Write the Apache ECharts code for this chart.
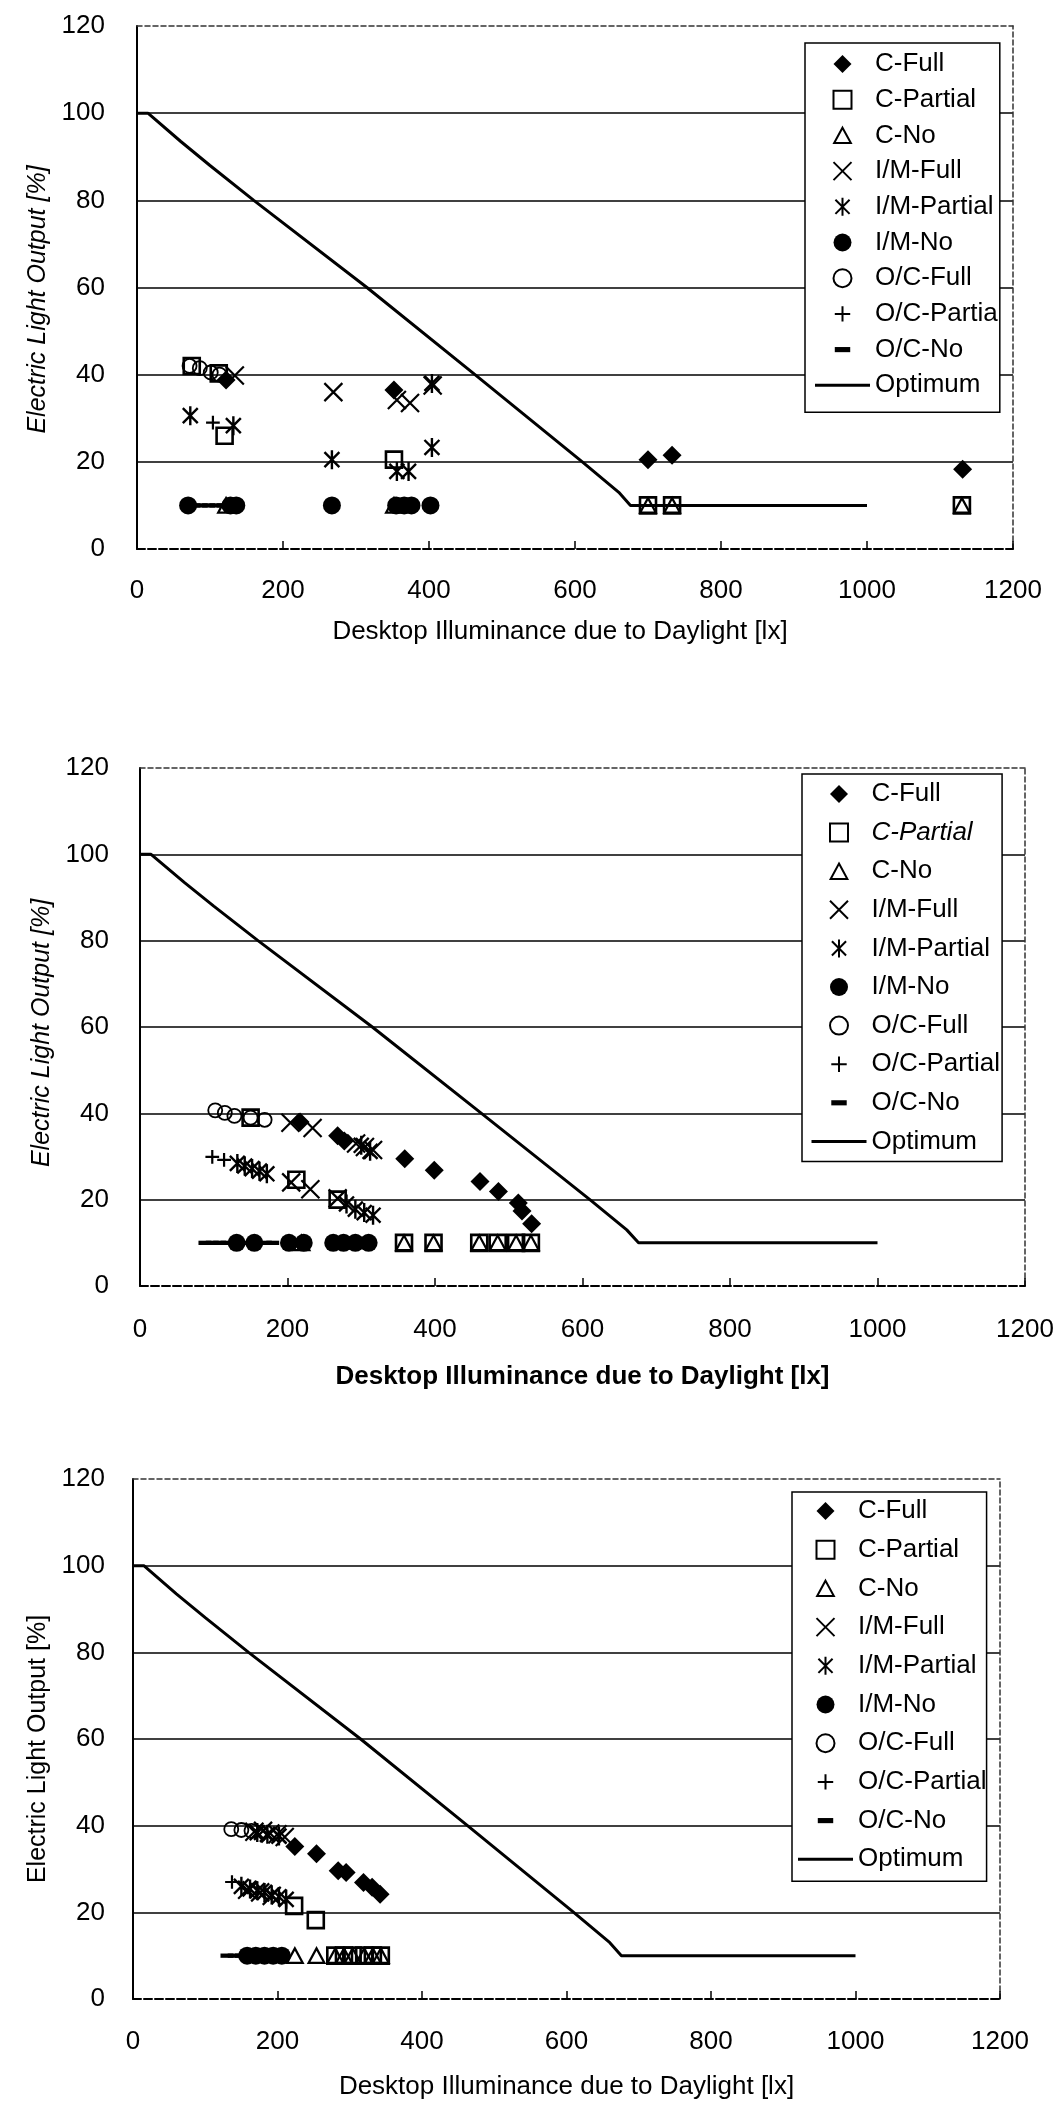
<!DOCTYPE html>
<html>
<head>
<meta charset="utf-8">
<script src="https://cdn.jsdelivr.net/npm/echarts@6/dist/echarts.min.js"></script>
<style>
  html, body { margin: 0; padding: 0; background: #fff; }
  .panel { position: absolute; left: 0; width: 1060px; }
</style>
</head>
<body>
<div id="room1" class="panel" style="top:0;height:700px"></div>
<div id="room2" class="panel" style="top:700px;height:700px"></div>
<div id="room3" class="panel" style="top:1400px;height:705px"></div>
<script>
// ---- data: [desktop illuminance from daylight (lx), electric light output (%)] ----

// optimum dimming curve, identical in all three rooms
const optimum = [[0,100],[15,100],[60,93.5],[100,88],[160,80],[315,60],[463,40],[610,20],[660,13],[676,10],[1000,10]];

// room 1
const r1CFull      = [[122,38.8],[352,36.5],[700,20.5],[733,21.5],[1131,18.3]];
const r1CPartial   = [[75,42],[112,40.3],[120,26],[352,20.5],[700,10],[733,10],[1130,10]];
const r1CNo        = [[122,10],[352,10],[700,10],[733,10],[1130,10]];
const r1IMFull     = [[134,39.8],[269,36],[356,34.2],[374,33.5],[405,37.5]];
const r1IMPartial  = [[73,30.6],[132,28.3],[267,20.5],[356,17.8],[372,17.8],[404,23.3],[404,38]];
const r1IMNo       = [[70,10],[128,10],[136,10],[267,10],[355,10],[366,10],[376,10],[402,10]];
const r1OCFull     = [[72,42],[86,41.5],[101,40.5],[113,40]];
const r1OCPartial  = [[104,29]];
const r1OCNo       = [[78,10],[88,10],[98,10],[108,10],[118,10]];

// room 2
const r2CFull      = [[217,38],[268,34.8],[277,33.6],[359,29.5],[399,26.8],[461,24.2],[486,21.9],[513,19.2],[518,17.4],[531,14.4]];
const r2CPartial   = [[150,39],[212,24.6],[268,20],[358,10],[398,10],[460,10],[485,10],[510,10],[530,10]];
const r2CNo        = [[219,10],[358,10],[398,10],[460,10],[485,10],[510,10],[530,10]];
const r2IMFull     = [[204,37.8],[234,36.6],[293,33],[305,32.2],[316,31.5],[205,24],[231,22.4],[268,20.3]];
const r2IMPartial  = [[132,28.4],[142,27.8],[152,27.2],[162,26.6],[172,26],[300,32.6],[312,31.2],[280,19],[292,17.8],[304,17],[316,16.4]];
const r2IMNo       = [[131,10],[155,10],[202,10],[222,10],[262,10],[276,10],[292,10],[310,10]];
const r2OCFull     = [[102,40.7],[115,40.1],[128,39.4],[150,39],[169,38.5]];
const r2OCPartial  = [[98,29.9],[114,29.2]];
const r2OCNo       = [[88,10],[98,10],[108,10],[118,10],[140,10],[170,10],[180,10]];

// room 3
const r3CFull      = [[224,35.2],[254,33.5],[284,29.6],[295,29.2],[319,26.9],[331,25.8],[342,24.2]];
const r3CPartial   = [[223,21.5],[253,18.2],[280,10],[292,10],[304,10],[320,10],[332,10],[343,10]];
const r3CNo        = [[224,10],[254,10],[280,10],[292,10],[304,10],[320,10],[332,10],[343,10]];
const r3IMFull     = [[168,38.6],[180,38.8],[190,38.2],[200,38],[210,37.4],[158,25.2],[176,24.6],[192,23.8]];
const r3IMPartial  = [[150,26],[162,25.4],[172,25],[182,24.6],[192,24],[202,23.6],[212,23],[172,38.4],[186,38],[202,37.6]];
const r3IMNo       = [[158,10],[170,10],[182,10],[194,10],[206,10]];
const r3OCFull     = [[136,39.2],[150,39],[164,38.8]];
const r3OCPartial  = [[137,27]];
const r3OCNo       = [[130,10],[140,10],[150,10]];

// legend / series names
const names1 = ['C-Full','C-Partial','C-No','I/M-Full','I/M-Partial','I/M-No','O/C-Full','O/C-Partia','O/C-No','Optimum'];
const names  = ['C-Full','C-Partial','C-No','I/M-Full','I/M-Partial','I/M-No','O/C-Full','O/C-Partial','O/C-No','Optimum'];

const xTitle = 'Desktop Illuminance due to Daylight [lx]';
const yTitle = 'Electric Light Output [%]';

// ---- marker styles (black & white print style) ----
const FONT = "'Liberation Sans', Arial, sans-serif";
const INK = '#000';
const OPEN = 'rgba(0,0,0,0)';
const MARKERS = [
  { symbol: 'path://M7,0L14,7L7,14L0,7Z', size: 19, style: { color: INK, opacity: 1 } },                                   // diamond
  { symbol: 'path://M1,1H13V13H1Z', size: 16, style: { color: OPEN, borderColor: INK, borderWidth: 2.6, opacity: 1 } },  // square
  { symbol: 'path://M0,0M14,14M7,1L13.5,13H0.5Z', size: 17, style: { color: OPEN, borderColor: INK, borderWidth: 2.2, opacity: 1 } }, // triangle
  { symbol: 'path://M1,1L13,13M13,1L1,13', size: 18, style: { color: OPEN, borderColor: INK, borderWidth: 2.2, opacity: 1 } }, // x
  { symbol: 'path://M0,0M14,14M1.5,1.5L12.5,12.5M12.5,1.5L1.5,12.5M7,0L7,14', size: 19, style: { color: OPEN, borderColor: INK, borderWidth: 2.4, opacity: 1 } }, // star
  { symbol: 'circle', size: 18, style: { color: INK, opacity: 1 } },                                                     // dot
  { symbol: 'circle', size: 14, style: { color: OPEN, borderColor: INK, borderWidth: 1.8, opacity: 1 } },                // ring
  { symbol: 'path://M0,0M14,14M7,1L7,13M1,7L13,7', size: 16, style: { color: OPEN, borderColor: INK, borderWidth: 2.2, opacity: 1 } }, // plus
  { symbol: 'path://M0,0M14,14M1,5H13V9H1Z', size: 15, style: { color: INK, opacity: 1 } }                                // dash
];

const plainNumber = v => String(v);

function buildPanel(el, cfg) {
  const chart = echarts.init(el, null, { renderer: 'canvas' });
  const series = cfg.data.map((d, i) => ({
    type: 'scatter',
    name: cfg.names[i],
    data: d,
    symbol: MARKERS[i].symbol,
    symbolSize: MARKERS[i].size,
    symbolKeepAspect: true,
    itemStyle: MARKERS[i].style,
    emphasis: { disabled: true },
    z: 3
  }));
  series.push({
    type: 'line',
    name: cfg.names[9],
    data: optimum,
    symbol: 'none',
    lineStyle: { color: INK, width: 3 },
    itemStyle: { color: INK },
    emphasis: { disabled: true },
    z: 2
  });

  const legendData = cfg.names.map((n, i) => {
    const item = { name: n };
    if (i === 9) item.icon = 'path://M0,0M55,18M0,7.5H55V10.5H0Z';
    if (cfg.italicLegend && cfg.italicLegend.indexOf(n) >= 0) item.textStyle = { fontStyle: 'italic' };
    return item;
  });

  chart.setOption({
    animation: false,
    backgroundColor: '#fff',
    textStyle: { fontFamily: FONT },
    grid: cfg.grid,
    legend: {
      orient: 'vertical',
      left: cfg.legend.left,
      top: cfg.legend.top,
      padding: cfg.legend.padding,
      itemGap: cfg.legend.gap,
      itemWidth: 55,
      itemHeight: 18,
      symbolKeepAspect: true,
      selectedMode: false,
      backgroundColor: '#fff',
      borderColor: INK,
      borderWidth: 1.5,
      borderRadius: 0,
      textStyle: { fontFamily: FONT, fontSize: 26, color: INK, lineHeight: 26 },
      data: legendData
    },
    xAxis: [{
      type: 'value', min: 0, max: 1200, interval: 200, position: 'bottom',
      axisLine: { show: true, onZero: false, lineStyle: { color: INK, width: 2, type: [8, 3] } },
      axisTick: { show: true, inside: true, length: 8, lineStyle: { color: INK, width: 1.5 } },
      axisLabel: { margin: cfg.xLabelMargin, fontSize: 26, color: INK, fontFamily: FONT, formatter: plainNumber },
      splitLine: { show: false },
      name: xTitle, nameLocation: 'middle', nameGap: cfg.xNameGap,
      nameTextStyle: { fontSize: 26, color: INK, fontFamily: FONT, fontWeight: cfg.xTitleWeight, padding: [0, cfg.xTitleShift, 0, 0] }
    }, {
      type: 'value', min: 0, max: 1200, position: 'top',
      axisLine: { show: true, onZero: false, lineStyle: { color: '#333', width: 1.5, type: [5, 3] } },
      axisTick: { show: false }, axisLabel: { show: false }, splitLine: { show: false }
    }],
    yAxis: [{
      type: 'value', min: 0, max: 120, interval: 20, position: 'left',
      axisLine: { show: true, onZero: false, lineStyle: { color: INK, width: 2 } },
      axisTick: { show: false },
      axisLabel: { margin: cfg.yLabelMargin, fontSize: 26, color: INK, fontFamily: FONT, formatter: plainNumber },
      splitLine: { show: true, showMinLine: false, showMaxLine: false, lineStyle: { color: INK, width: 1.5 } },
      name: yTitle, nameLocation: 'middle', nameGap: cfg.yNameGap,
      nameTextStyle: { fontSize: 25, color: INK, fontFamily: FONT, fontStyle: cfg.yTitleStyle, padding: [0, cfg.yTitleShift, 0, 0] }
    }, {
      type: 'value', min: 0, max: 120, position: 'right',
      axisLine: { show: true, onZero: false, lineStyle: { color: '#333', width: 1.5, type: [5, 3] } },
      axisTick: { show: false }, axisLabel: { show: false }, splitLine: { show: false }
    }],
    series: series
  });
  return chart;
}

buildPanel(document.getElementById('room1'), {
  names: names1,
  data: [r1CFull, r1CPartial, r1CNo, r1IMFull, r1IMPartial, r1IMNo, r1OCFull, r1OCPartial, r1OCNo],
  grid: { left: 137, right: 47, top: 26, bottom: 151 },
  legend: { left: 805, top: 43, padding: [8, 2, 14, 10], gap: 9.7 },
  xLabelMargin: 29, yLabelMargin: 32, xNameGap: 70, yNameGap: 50,
  xTitleWeight: 'normal', xTitleShift: 30, yTitleStyle: 'italic', yTitleShift: 24
});

buildPanel(document.getElementById('room2'), {
  names: names,
  italicLegend: ['C-Partial'],
  data: [r2CFull, r2CPartial, r2CNo, r2IMFull, r2IMPartial, r2IMNo, r2OCFull, r2OCPartial, r2OCNo],
  grid: { left: 140, right: 35, top: 68, bottom: 114 },
  legend: { left: 802, top: 74, padding: [7, 2, 7, 9.5], gap: 12.6 },
  xLabelMargin: 31, yLabelMargin: 31, xNameGap: 78, yNameGap: 50,
  xTitleWeight: 'bold', xTitleShift: 0, yTitleStyle: 'italic', yTitleShift: 12
});

buildPanel(document.getElementById('room3'), {
  names: names,
  data: [r3CFull, r3CPartial, r3CNo, r3IMFull, r3IMPartial, r3IMNo, r3OCFull, r3OCPartial, r3OCNo],
  grid: { left: 133, right: 60, top: 79, bottom: 105 },
  legend: { left: 792, top: 92, padding: [6, 0, 9, 6], gap: 12.7 },
  xLabelMargin: 30, yLabelMargin: 28, xNameGap: 75, yNameGap: 48,
  xTitleWeight: 'normal', xTitleShift: 0, yTitleStyle: 'normal', yTitleShift: 20
});
</script>
</body>
</html>
